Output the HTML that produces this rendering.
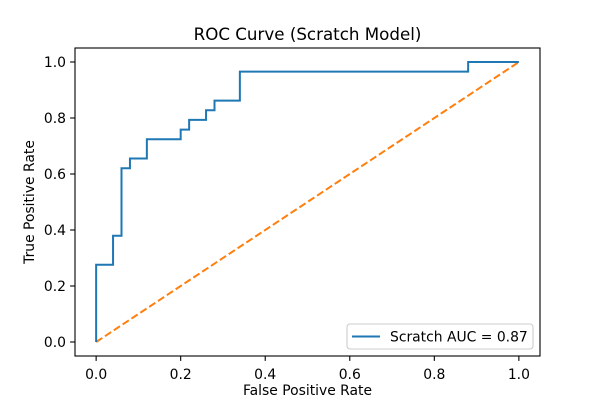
<!DOCTYPE html>
<html><head><meta charset="utf-8"><style>
body{margin:0;background:#fff;}
svg{display:block;font-family:"DejaVu Sans","Liberation Sans",sans-serif;}
</style></head><body>
<svg id="chart" width="600" height="400">
<rect width="600" height="400" fill="#fff"/>
</svg>
<script>
const fprValues=[0,0,0.04,0.04,0.06,0.06,0.08,0.08,0.12,0.12,0.2,0.2,0.22,0.22,0.26,0.26,0.28,0.28,0.34,0.34,0.88,0.88,1.0];
const tprValues=[0,8/29,8/29,11/29,11/29,18/29,18/29,19/29,19/29,21/29,21/29,22/29,22/29,23/29,23/29,24/29,24/29,25/29,25/29,28/29,28/29,1,1];
const xTicks=[0,0.2,0.4,0.6,0.8,1.0];
const yTicks=[0,0.2,0.4,0.6,0.8,1.0];
const tickLabels=["0.0","0.2","0.4","0.6","0.8","1.0"];
const legendLabel="Scratch AUC = 0.87";

const L=75,R=540,T=48,B=356;
const sx=v=>L+(v+0.05)/1.1*(R-L);
const sy=v=>B-(v+0.05)/1.1*(B-T);
const svg=document.getElementById('chart');
const NS='http://www.w3.org/2000/svg';
function mk(tag,attrs,parent){const e=document.createElementNS(NS,tag);for(const k in attrs)e.setAttribute(k,attrs[k]);(parent||svg).appendChild(e);return e;}

let diag=mk('line',{x1:sx(0),y1:sy(0),x2:sx(1),y2:sy(1),stroke:'#ff7f0e','stroke-width':2,'stroke-dasharray':'7.4,3.2'});


let pts=fprValues.map((f,i)=>sx(f).toFixed(2)+','+sy(tprValues[i]).toFixed(2)).join(' ');
let roc=mk('polyline',{points:pts,fill:'none',stroke:'#1f77b4','stroke-width':2});



let fr=mk('rect',{x:L,y:T,width:R-L,height:B-T,fill:'none',stroke:'#000','stroke-width':1.1});



xTicks.forEach((v,i)=>{
  mk('line',{x1:sx(v),y1:B,x2:sx(v),y2:B+4.9,stroke:'#000','stroke-width':1.1});
  let t=mk('text',{x:sx(v),y:B+23,'text-anchor':'middle','font-size':13.9,fill:'#000'});
  t.textContent=tickLabels[i];
  
  
});
yTicks.forEach((v,i)=>{
  mk('line',{x1:L-4.9,y1:sy(v),x2:L,y2:sy(v),stroke:'#000','stroke-width':1.1});
  let t=mk('text',{x:L-9,y:sy(v)+5,'text-anchor':'end','font-size':13.9,fill:'#000'});
  t.textContent=tickLabels[i];
  
  
});

let title=mk('text',{x:(L+R)/2,y:40,'text-anchor':'middle','font-size':16.7,fill:'#000'});
title.textContent='ROC Curve (Scratch Model)';


let xl=mk('text',{x:(L+R)/2,y:395,'text-anchor':'middle','font-size':13.9,fill:'#000'});
xl.textContent='False Positive Rate';


let yl=mk('text',{x:0,y:0,'text-anchor':'middle','font-size':13.9,fill:'#000',transform:'translate(34,'+((T+B)/2)+') rotate(-90)'});
yl.textContent='True Positive Rate';



let lg=mk('g',{});


mk('rect',{x:347,y:324,width:186,height:25,rx:3,fill:'#fff',stroke:'#ccc','stroke-width':1.1},lg);
mk('line',{x1:352,y1:336.5,x2:380,y2:336.5,stroke:'#1f77b4','stroke-width':2},lg);
let lt=mk('text',{x:390,y:341.5,'font-size':13.9,fill:'#000'},lg);
lt.textContent=legendLabel;


</script>
</body></html>
